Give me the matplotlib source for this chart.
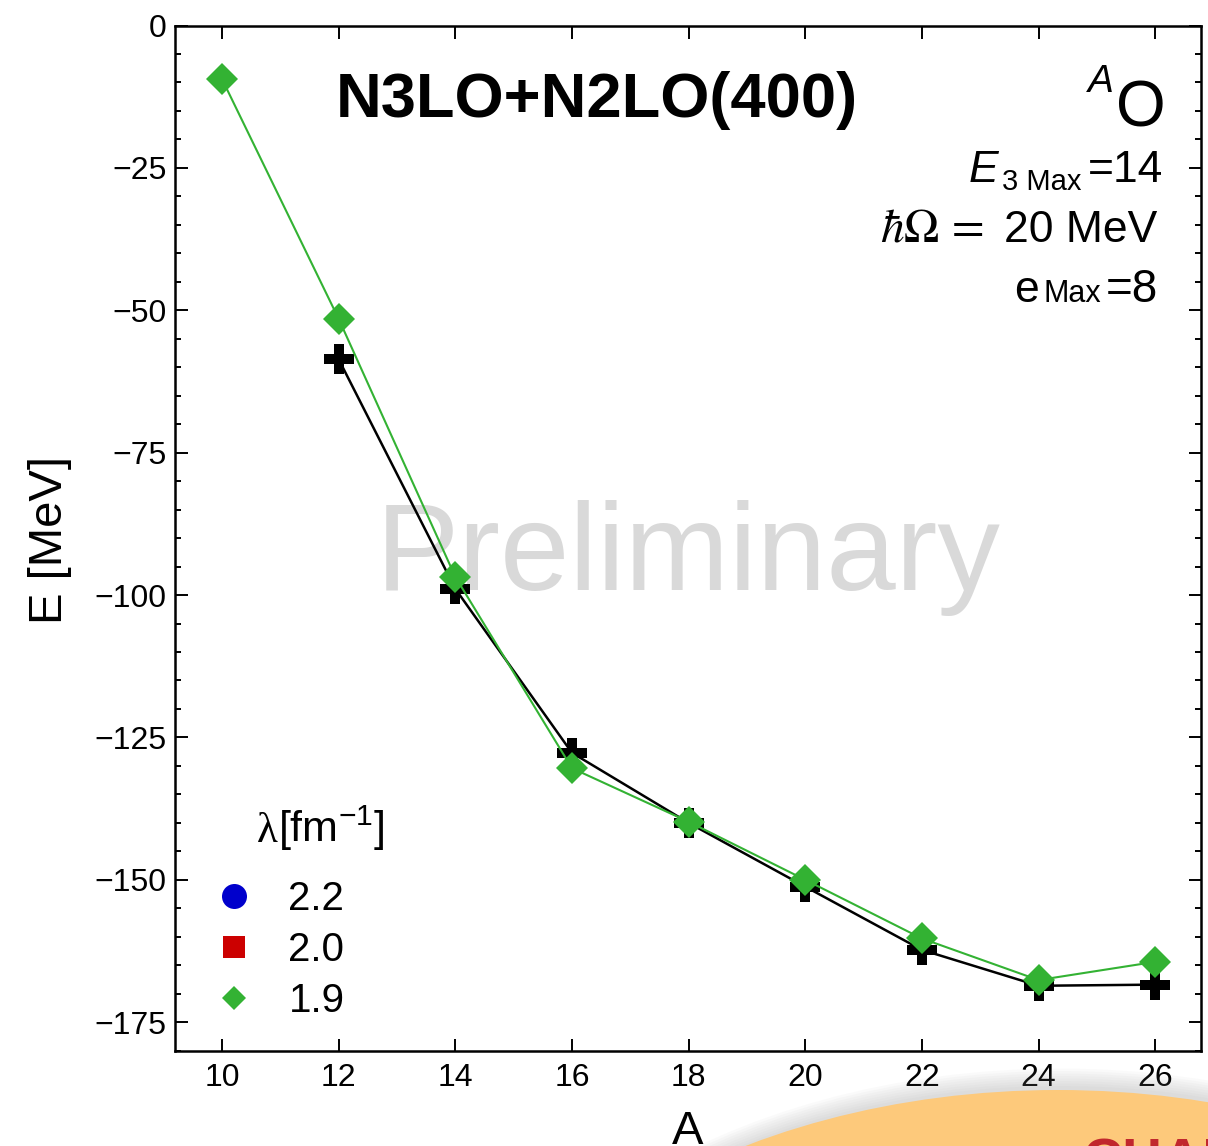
import matplotlib
matplotlib.use("Agg")
import matplotlib.pyplot as plt
from matplotlib.lines import Line2D
from matplotlib.patches import Ellipse
from matplotlib.ticker import MultipleLocator

plt.rcParams['font.family'] = ['Liberation Sans', 'DejaVu Sans']
plt.rcParams['mathtext.fontset'] = 'custom'
plt.rcParams['mathtext.rm'] = 'Liberation Sans'
plt.rcParams['mathtext.it'] = 'Liberation Sans:italic'

# Ground-state energies of oxygen isotopes
mass_green = [10, 12, 14, 16, 18, 20, 22, 24, 26]
energy_green = [-9.4, -51.5, -96.8, -130.4, -139.8, -150.0, -160.3, -167.6, -164.4]
mass_black = [12, 14, 16, 18, 20, 22, 24, 26]
energy_black = [-58.6, -98.9, -127.7, -140.0, -151.2, -162.3, -168.6, -168.4]

lambda_labels = ['2.2', '2.0', '1.9']
lambda_colors = ['#0000cc', '#cc0000', '#33b233']
lambda_markers = ['o', 's', 'D']

xticks = [10, 12, 14, 16, 18, 20, 22, 24, 26]

W, H = 1208, 1146
DPI = 100


def fx(px):
    return px / W


def fy(py):
    return 1 - py / H


fig = plt.figure(figsize=(W / DPI, H / DPI), dpi=DPI)
renderer = fig.canvas.get_renderer()


def left_of(prev, s, gap, base_py, **kw):
    """Place text s right-aligned just left of an already placed text."""
    x0 = prev.get_window_extent(renderer).x0
    return fig.text((x0 - gap) / W, fy(base_py), s, ha='right', va='baseline', **kw)


def right_of(prev, s, gap, base_py, **kw):
    """Place text s left-aligned just right of an already placed text."""
    x1 = prev.get_window_extent(renderer).x1
    return fig.text((x1 + gap) / W, fy(base_py), s, ha='left', va='baseline', **kw)


ax = fig.add_axes([fx(175), fy(1050.7), (1200.7 - 175) / W, (1050.7 - 25.5) / H])

# watermark
ax.text(fx(688), fy(590), 'Preliminary', transform=fig.transFigure, ha='center',
        va='baseline', fontsize=90, color='#d9d9d9', zorder=0)

ax.plot(mass_black, energy_black, color='black', lw=1.8, marker='P', ms=22,
        mew=0, mfc='black', zorder=3)
ax.plot(mass_green, energy_green, color='#33b233', lw=1.5, marker='D', ms=15.8,
        mew=0, mfc='#33b233', zorder=4)

ax.set_xlim(9.194, 26.78)
ax.set_ylim(-180, 0)
ax.set_xticks(xticks)
ax.yaxis.set_major_locator(MultipleLocator(25))
ax.yaxis.set_minor_locator(MultipleLocator(5))
ax.tick_params(which='both', direction='in', top=True, right=True, width=1.4,
               labelsize=23)
ax.tick_params(which='major', length=9)
ax.tick_params(which='minor', length=4.5)
ax.tick_params(axis='y', pad=6)
ax.tick_params(axis='x', pad=9)
for s in ax.spines.values():
    s.set_linewidth(1.8)

ax.set_xlabel('A', fontsize=34)
ax.xaxis.set_label_coords(0.5, -0.058)
ax.set_ylabel('E [MeV]', fontsize=34)
ax.yaxis.set_label_coords(-0.1004, 0.498)

# header texts
fig.text(fx(597), fy(117), 'N3LO+N2LO(400)', ha='center', va='baseline',
         fontsize=45.5, fontweight='bold')
t_o = fig.text(fx(1166), fy(126), 'O', ha='right', va='baseline', fontsize=46)
left_of(t_o, 'A', 3, 92, fontsize=28, style='italic')

t = fig.text(fx(1163), fy(182), '=14', ha='right', va='baseline', fontsize=32)
t = left_of(t, '3 Max', 6, 190, fontsize=21)
left_of(t, 'E', 4, 182, fontsize=32, style='italic')

t = fig.text(fx(1157), fy(242), '20 MeV', ha='right', va='baseline', fontsize=32)
left_of(t, r'$\hbar\Omega\,=$', 20, 242, fontsize=34, math_fontfamily='stix')

t = fig.text(fx(1158), fy(302), '=8', ha='right', va='baseline', fontsize=33)
t = left_of(t, 'Max', 5, 302, fontsize=22)
left_of(t, 'e', 4, 302, fontsize=32)

# legend for the SRG cutoff
t = fig.text(fx(257), fy(842), 'λ', ha='left', va='baseline', fontsize=31,
             family='Liberation Serif')
right_of(t, r'[fm$^{-1}$]', 0, 842, fontsize=31)
sizes = [18, 15.8, 12.7]
handles = [Line2D([], [], ls='none', marker=m, color=c, ms=s, mew=0)
           for m, c, s in zip(lambda_markers, lambda_colors, sizes)]
ax.legend(handles, lambda_labels, loc='upper left',
          bbox_to_anchor=(fx(216), fy(880)), bbox_transform=fig.transFigure,
          frameon=False, fontsize=29, handlelength=0.9, handletextpad=0.9,
          labelspacing=0.32, borderpad=0, borderaxespad=0, numpoints=1)

# logo badge in the lower right corner
for i in range(8):
    fig.patches.append(Ellipse((fx(1060), fy(1479)), (1204 + 5 * i) / W,
                               (786 + 5 * i) / H, transform=fig.transFigure,
                               facecolor='#808080', edgecolor='none', alpha=0.035,
                               zorder=0))
fig.patches.append(Ellipse((fx(1058), fy(1479)), 1210 / W, 778 / H,
                           transform=fig.transFigure, facecolor='#fdc97b',
                           edgecolor='none', zorder=1))
fig.text(fx(1083), fy(1177), 'CHALMERS', ha='left', va='baseline', fontsize=40,
         fontweight='bold', color='#c1272d', zorder=2)

fig.savefig('out.png', dpi=DPI)
